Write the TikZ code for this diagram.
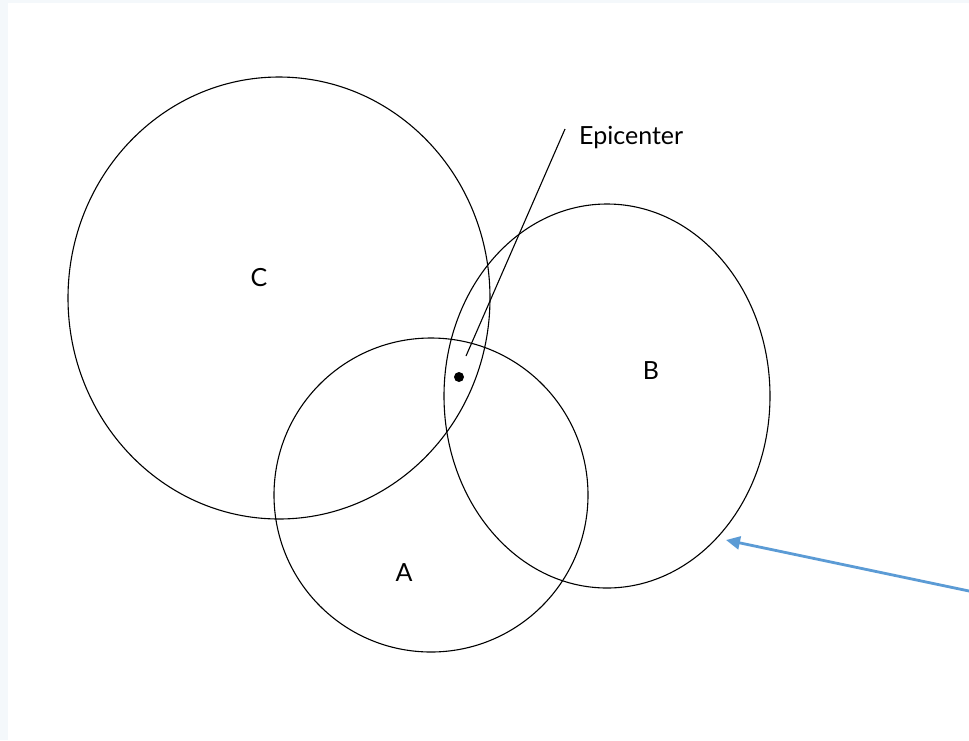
\documentclass[tikz,border=0pt]{standalone}
\usepackage{fontspec}
\setmainfont{Lato}
\usetikzlibrary{arrows.meta,positioning}
\definecolor{frameblue}{HTML}{F4F8FB}
\definecolor{arrowblue}{HTML}{5B9BD5}

\begin{document}
\begin{tikzpicture}[x=1pt,y=-1pt,font=\fontsize{25}{30}\selectfont,
  ring/.style={draw=black,line width=1.1pt},
  lbl/.style={inner sep=0pt}]
  \fill[frameblue] (0,0) rectangle (969,740);
  \fill[white] (8,3) rectangle (969,740);
  \useasboundingbox (0,0) rectangle (969,740);
  % the three circles
  \draw[ring] (279,298) ellipse [x radius=211, y radius=221];
  \draw[ring] (431,495) ellipse [x radius=157, y radius=157];
  \draw[ring] (607,396) ellipse [x radius=163, y radius=192];
  \node[lbl] (C) at (259,278) {C};
  \node[lbl] (A) at (404,573) {A};
  \node[lbl] (B) at (651,371) {B};
  % epicenter
  \node[circle,fill=black,inner sep=0pt,minimum size=10pt] (epi) at (459,377) {};
  \node[lbl,anchor=west] (epilbl) at (579,138) {Epicenter};
  \coordinate (lineTop) at (565,129);
  \coordinate (lineEnd) at (466,356);
  \draw[line width=1.1pt] (lineTop) -- (lineEnd);
  % arrow into B
  \coordinate (arrTail) at (969,591);
  \coordinate (arrHead) at (726,540);
  \draw[arrowblue,line width=2.8pt,-{Triangle[length=14pt,width=13pt]}] (arrTail) -- (arrHead);
\end{tikzpicture}
\end{document}
